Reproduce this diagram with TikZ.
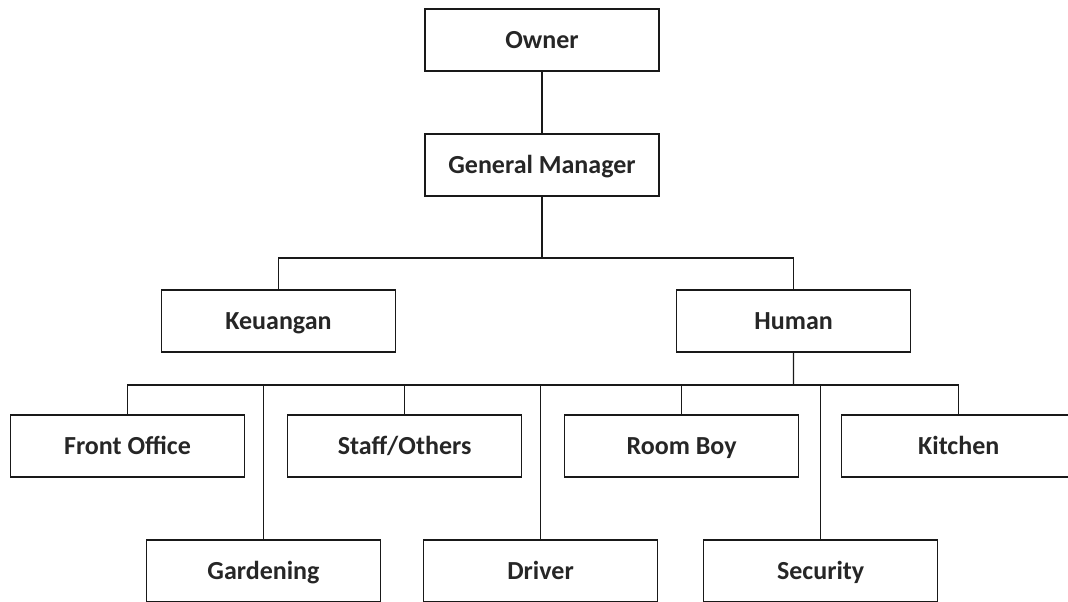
\documentclass[tikz,border=0pt]{standalone}
\usepackage{fontspec}
\setmainfont{Carlito}
\usetikzlibrary{shapes,arrows,positioning}
\tikzstyle{block} = [draw=black!90, line width=1.1pt, rectangle, fill=white,
    text=black!85, minimum height=1.55cm, minimum width=5.85cm,
    text height=12pt, text depth=0pt,
    font=\fontsize{18.5}{21}\selectfont\bfseries]
\tikzstyle{line} = [draw=black!90, line width=0.9pt]

\begin{document}
\begin{tikzpicture}[x=0.025cm, y=-0.025cm, node distance=6.925cm]
    \fill [white] (0,0) rectangle (1068,601);
    \useasboundingbox (0,0) rectangle (1068,601);
    \clip (0,0) rectangle (1068,601);
    % We start by placing the blocks, top down
    \node [block] (owner) at (542,40) {Owner};
    \node [block, below of=owner, node distance=3.125cm] (gm) {General Manager};
    \node [block] (keuangan) at (278.5,321) {Keuangan};
    \node [block, right of=keuangan, node distance=12.875cm] (human) {Human};
    % staff row under Human
    \node [block] (front) at (127.5,446) {Front Office};
    \node [block, right of=front] (staff) {Staff/Others};
    \node [block, right of=staff] (roomboy) {Room Boy};
    \node [block, right of=roomboy] (kitchen) {Kitchen};
    \node [block] (gardening) at (263.5,571) {Gardening};
    \node [block, right of=gardening] (driver) {Driver};
    \node [block, right of=driver, node distance=7cm] (security) {Security};

    % The two busses the branches hang from
    \coordinate (bus1) at (542,258);
    \coordinate (bus2) at (793.5,385);

    % Once the nodes are placed, connecting them is easy.
    \draw [line] (owner) -- (gm);
    \draw [line] (gm) -- (bus1);
    \draw [line] (bus1) -| (keuangan);
    \draw [line] (bus1) -| (human);
    \draw [line] (human) -- (bus2);
    \foreach \n in {front,staff,roomboy,kitchen,gardening,driver,security}
        \draw [line] (bus2) -| (\n);
\end{tikzpicture}
\end{document}
